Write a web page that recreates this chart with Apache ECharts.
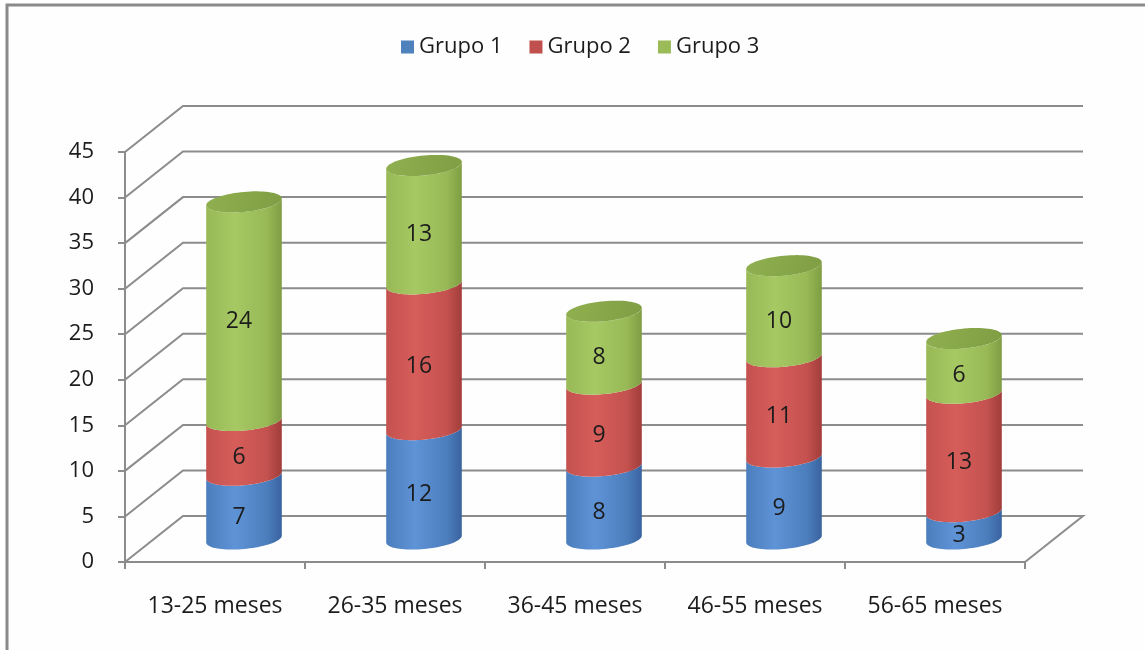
<!DOCTYPE html>
<html>
<head>
<meta charset="utf-8">
<script src="https://cdn.jsdelivr.net/npm/echarts@6/dist/echarts.min.js"></script>
<style>
  html, body { margin: 0; padding: 0; background: #ffffff; }
  #chart { width: 1145px; height: 650px; }
</style>
</head>
<body>
<div id="chart"></div>
<script>
// Age bands and the three stacked groups
const categories = ['13-25 meses', '26-35 meses', '36-45 meses', '46-55 meses', '56-65 meses'];
const grupo1 = [7, 12, 8, 9, 3];
const grupo2 = [6, 16, 9, 11, 13];
const grupo3 = [24, 13, 8, 10, 6];
const seriesNames = ['Grupo 1', 'Grupo 2', 'Grupo 3'];
const valueTicks = [0, 5, 10, 15, 20, 25, 30, 35, 40, 45];

const groups = [grupo1, grupo2, grupo3];

// Cylinder shading per group
const palettes = [
  { base: '#4F81BD', light: '#5E93D6', mid: '#4C7EBD', dark: '#3A64A0', top: '#4A7AB6' },
  { base: '#C0504D', light: '#D65D5A', mid: '#C4524F', dark: '#A13D3B', top: '#B84C49' },
  { base: '#9BBB59', light: '#A6C964', mid: '#98B956', dark: '#7F9D43', top: '#90B050' }
];

// Perspective depth of the floor/back wall, in pixels
const DX = 58;
const DY = -46;
const SHEAR = 0.09;   // tilt of the cylinder ellipses
const GRID_COLOR = '#8c8c8c';
const FONT = '"Open Sans", "DejaVu Sans", sans-serif';
const TEXT_COLOR = '#1c1c1c';

function ellipsePoints(cx, cy, rx, ry, t0, t1, n) {
  const pts = [];
  for (let k = 0; k <= n; k++) {
    const t = t0 + (t1 - t0) * k / n;
    const ex = rx * Math.cos(t);
    pts.push([cx + ex, cy + ry * Math.sin(t) - SHEAR * ex]);
  }
  return pts;
}

function stackBase(gi, i) {
  let s = 0;
  for (let k = 0; k < gi; k++) s += groups[k][i];
  return s;
}

function wallItem(params, api) {
  const v = api.value(1);
  const band = api.size([1, 0])[0];
  const l = api.coord([0, v]);
  const r = api.coord([categories.length - 1, v]);
  const xl = l[0] - band / 2;
  const xr = r[0] + band / 2;
  const y = l[1];
  const pts = [[xl, y], [xl + DX, y + DY], [xr + DX, y + DY]];
  if (v === 0) pts.push([xr, y]);
  return {
    type: 'polyline',
    shape: { points: pts },
    style: { stroke: GRID_COLOR, lineWidth: 2, fill: null }
  };
}

function cylinderItem(gi) {
  const pal = palettes[gi];
  const isTop = gi === groups.length - 1;
  return function (params, api) {
    const i = params.dataIndex;
    const val = api.value(1);
    const base = stackBase(gi, i);
    const band = api.size([1, 0])[0];
    const p0 = api.coord([i, base]);
    const p1 = api.coord([i, base + val]);
    const cx = p0[0] + DX / 2;
    const yb = p0[1] + DY / 2;
    const yt = p1[1] + DY / 2;
    const rx = band * 0.21;
    const ry = 10;

    const body = ellipsePoints(cx, yb, rx, ry, 0, Math.PI, 40)
      .concat(ellipsePoints(cx, yt, rx, ry, Math.PI, 0, 40));

    const children = [{
      type: 'polygon',
      shape: { points: body },
      style: {
        fill: new echarts.graphic.LinearGradient(0, 0, 1, 0, [
          { offset: 0, color: pal.mid },
          { offset: 0.38, color: pal.light },
          { offset: 0.8, color: pal.mid },
          { offset: 1, color: pal.dark }
        ])
      }
    }];

    if (isTop) {
      children.push({
        type: 'polygon',
        shape: { points: ellipsePoints(cx, yt, rx, ry, 0, Math.PI * 2, 72) },
        style: {
          fill: new echarts.graphic.LinearGradient(0, 0, 1, 1, [
            { offset: 0, color: pal.top },
            { offset: 1, color: pal.dark }
          ])
        }
      });
    }

    children.push({
      type: 'text',
      x: cx - 5,
      y: (yb + yt) / 2 + ry,
      style: {
        text: String(val),
        fill: TEXT_COLOR,
        font: '23px ' + FONT,
        align: 'center',
        verticalAlign: 'middle'
      }
    });

    return { type: 'group', children: children };
  };
}

const chart = echarts.init(document.getElementById('chart'), null, { renderer: 'canvas' });

const series = [{
  name: 'wall',
  type: 'custom',
  renderItem: wallItem,
  data: valueTicks.map(v => [0, v]),
  encode: { x: 0, y: 1 },
  silent: true,
  z: 1
}];

groups.forEach((g, gi) => {
  series.push({
    name: seriesNames[gi],
    type: 'custom',
    renderItem: cylinderItem(gi),
    data: g.map((v, i) => [i, v]),
    encode: { x: 0, y: 1 },
    itemStyle: { color: palettes[gi].base },
    z: 2 + gi
  });
});

chart.setOption({
  animation: false,
  backgroundColor: '#ffffff',
  graphic: [{
    type: 'rect',
    shape: { x: 7, y: 5, width: 1200, height: 700 },
    style: { fill: '#fefefe', stroke: '#8a8a8a', lineWidth: 3 },
    z: -10,
    silent: true
  }],
  legend: {
    data: seriesNames,
    left: 396,
    top: 31,
    icon: 'rect',
    itemWidth: 13,
    itemHeight: 13,
    itemGap: 27,
    textStyle: { fontFamily: FONT, fontSize: 22, color: TEXT_COLOR }
  },
  grid: { left: 125, right: 120, top: 152, bottom: 88 },
  xAxis: {
    type: 'category',
    data: categories,
    axisLine: { show: true, lineStyle: { color: GRID_COLOR, width: 2 } },
    axisTick: { show: true, length: 7, lineStyle: { color: GRID_COLOR, width: 2 } },
    axisLabel: { fontFamily: FONT, fontSize: 23, color: TEXT_COLOR, margin: 33 },
    splitLine: { show: false }
  },
  yAxis: {
    type: 'value',
    min: 0,
    max: 45,
    interval: 5,
    axisLine: { show: true, lineStyle: { color: GRID_COLOR, width: 2 } },
    axisTick: { show: true, length: 7, lineStyle: { color: GRID_COLOR, width: 2 } },
    axisLabel: { fontFamily: FONT, fontSize: 22, color: TEXT_COLOR, margin: 31 },
    splitLine: { show: false }
  },
  series: series
});
</script>
</body>
</html>
